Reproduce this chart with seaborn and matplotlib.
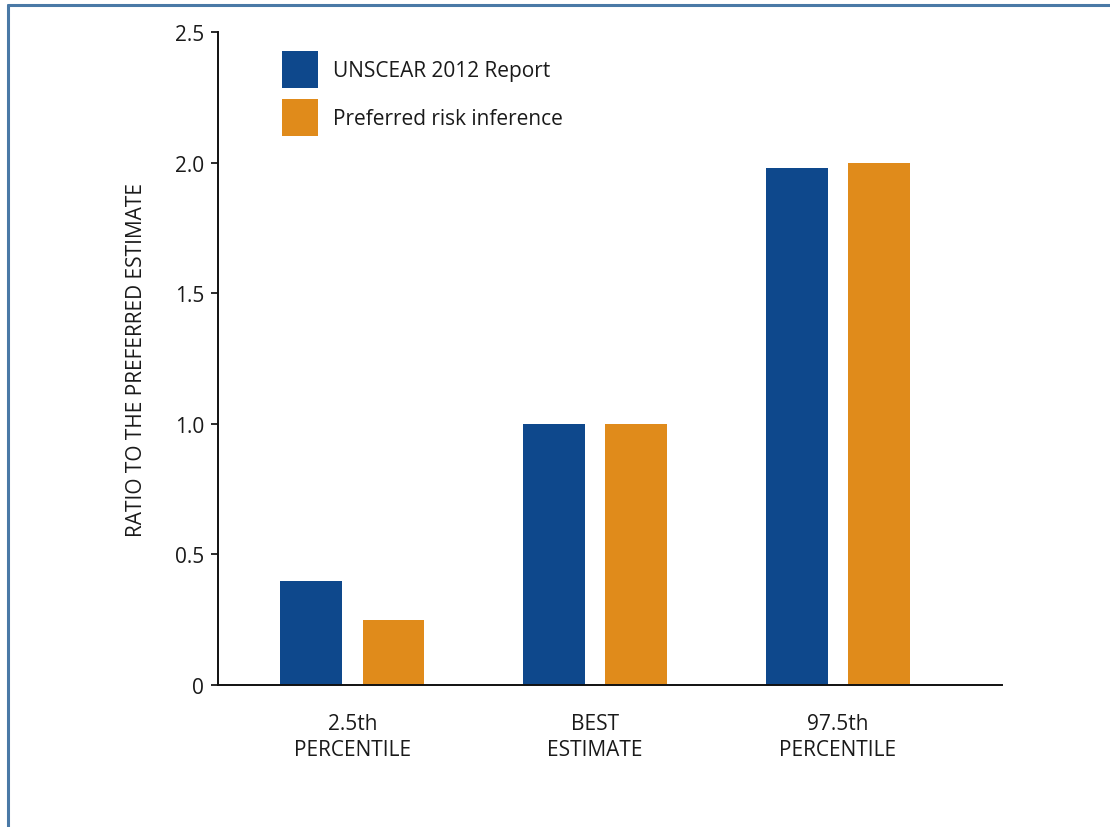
import pandas as pd
import matplotlib.pyplot as plt
import seaborn as sns
from matplotlib.lines import Line2D

# values
categories = ['2.5th\nPERCENTILE', 'BEST\nESTIMATE', '97.5th\nPERCENTILE']
unscear = [0.40, 1.00, 1.98]
preferred = [0.25, 1.00, 2.00]
series = ['UNSCEAR 2012 Report', 'Preferred risk inference']
yticks = [0, 0.5, 1.0, 1.5, 2.0, 2.5]
ytick_labels = ['0', '0.5', '1.0', '1.5', '2.0', '2.5']

df = pd.DataFrame({
    'category': categories * 2,
    'value': unscear + preferred,
    'series': [series[0]] * 3 + [series[1]] * 3,
})

sns.set_style('white')
plt.rcParams['font.family'] = ['Open Sans', 'DejaVu Sans']

fig = plt.figure(figsize=(11.1, 8.28), dpi=100)
ax = fig.add_axes([0.1964, 0.1715, 0.7063, 0.7886])

sns.barplot(data=df, x='category', y='value', hue='series', order=categories,
            hue_order=series, palette=['#0E488C', '#E08B1B'], width=0.676,
            gap=0.245, saturation=1, linewidth=0, ax=ax)

ax.set_xlim(-0.554, 2.676)
ax.set_ylim(0, 2.5)
ax.set_yticks(yticks)
ax.set_yticklabels(ytick_labels)
ax.set_xlabel('')
ax.set_ylabel('RATIO TO THE PREFERRED ESTIMATE', fontsize=15, labelpad=20, color='#1a1a1a')
ax.tick_params(axis='y', left=True, length=5, width=1.3, pad=5, labelsize=15, colors='#1a1a1a')
ax.tick_params(axis='x', bottom=False, pad=17, labelsize=15, colors='#1a1a1a')
for lbl in ax.get_xticklabels():
    lbl.set_linespacing(1.3)

sns.despine(ax=ax)
for side in ['left', 'bottom']:
    ax.spines[side].set_linewidth(1.4)
    ax.spines[side].set_color('#111111')

ax.legend(loc='upper left', bbox_to_anchor=(282 / 1110, 1 - 52 / 828),
          bbox_transform=fig.transFigure, frameon=False, fontsize=15,
          handlelength=1.75, handleheight=2.35, handletextpad=0.7,
          labelspacing=0.55, borderpad=0, borderaxespad=0, labelcolor='#1a1a1a')

# thin frame on top and left of the figure
fig.add_artist(Line2D([8 / 1110, 1], [1 - 6 / 828, 1 - 6 / 828], color='#4A79A6', lw=2.2))
fig.add_artist(Line2D([8 / 1110, 8 / 1110], [0, 1 - 6 / 828], color='#4A79A6', lw=2.2))

fig.savefig('out.png', dpi=100)
